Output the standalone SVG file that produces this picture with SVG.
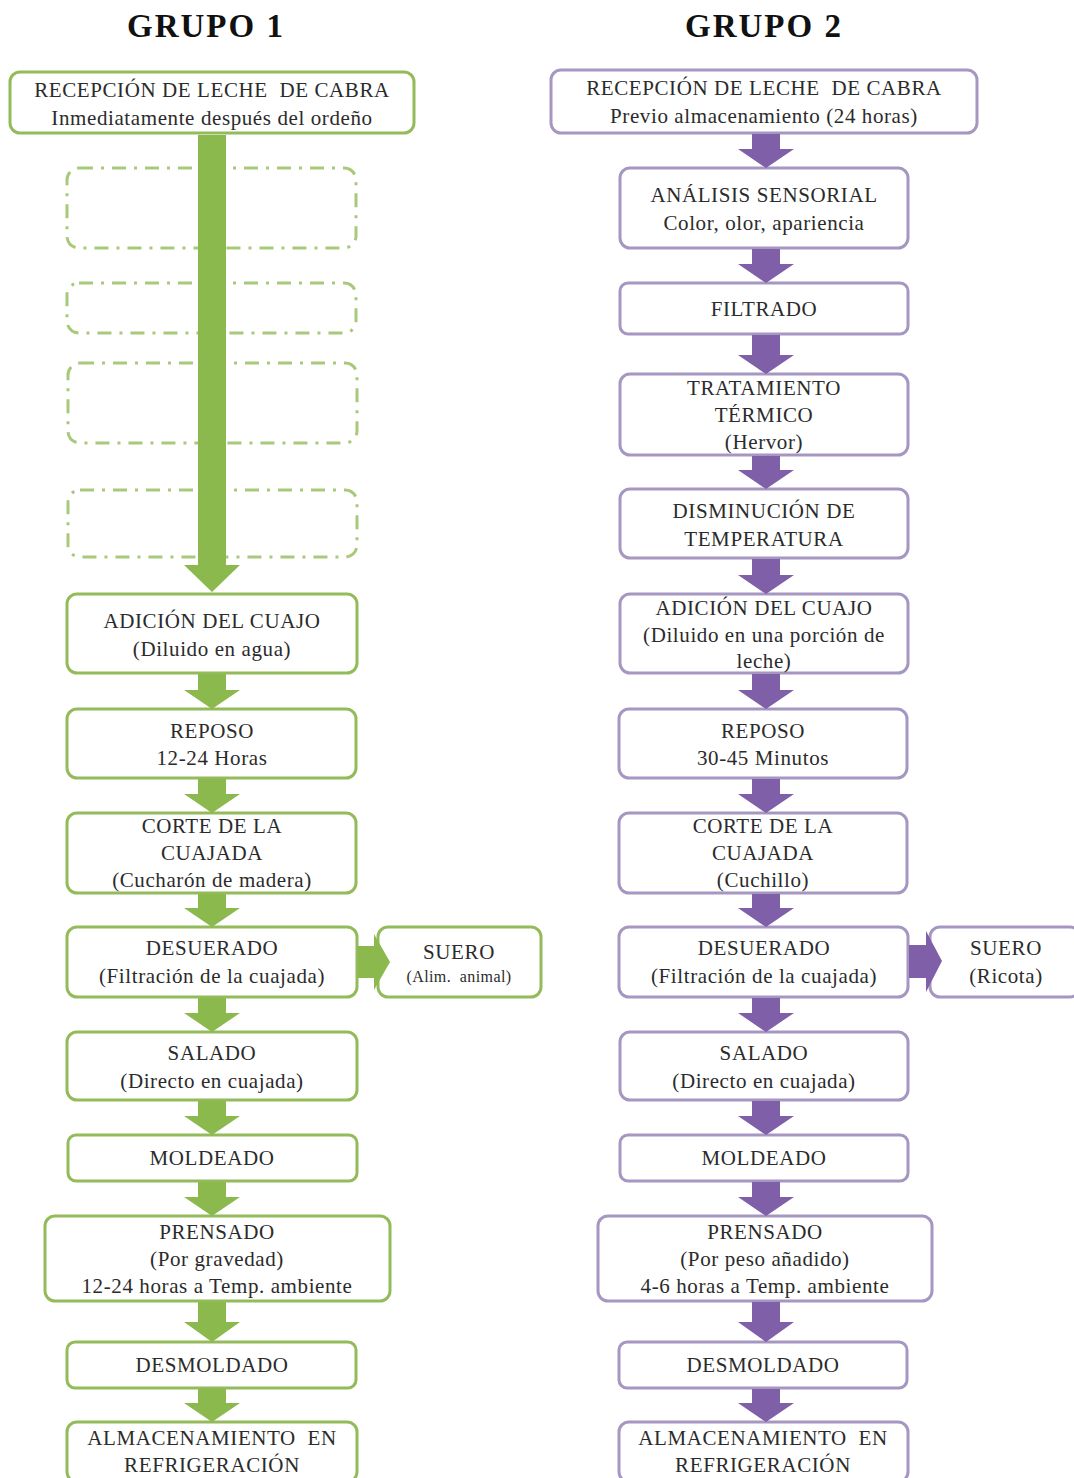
<svg xmlns="http://www.w3.org/2000/svg" width="1074" height="1478" viewBox="0 0 1074 1478">
<style>
.g{fill:#fff;stroke:#93bb5a;stroke-width:3}
.gd{fill:none;stroke:#a9c97a;stroke-width:3;stroke-dasharray:14 8 3 8}
.p{fill:#fff;stroke:#a597c2;stroke-width:3}
.ga{fill:#8cb94e}
.pa{fill:#7f5fa8}
text{font-family:"Liberation Serif","Times New Roman",serif;font-size:21px;letter-spacing:0.6px;fill:#2b2b2b;text-anchor:middle;white-space:pre}
.t{font-size:33px;font-weight:bold;fill:#111;letter-spacing:2px}
.s{font-size:16px;letter-spacing:0.4px}
</style>
<rect width="1074" height="1478" fill="#fff"/>
<text class="t" x="206" y="37">GRUPO 1</text>
<text class="t" x="764" y="37">GRUPO 2</text>

<g id="g1-recepcion"><rect class="g" x="10" y="72" width="404" height="61" rx="10"/><text x="212" y="97">RECEPCIÓN DE LECHE  DE CABRA</text><text x="212" y="125">Inmediatamente después del ordeño</text></g>
<g id="g1-dash1"><rect class="gd" x="67" y="168" width="289" height="80" rx="12"/></g>
<g id="g1-dash2"><rect class="gd" x="67" y="283" width="289" height="50" rx="12"/></g>
<g id="g1-dash3"><rect class="gd" x="68" y="363" width="289" height="80" rx="12"/></g>
<g id="g1-dash4"><rect class="gd" x="68" y="490" width="289" height="67" rx="12"/></g>
<g id="g1-adicion"><rect class="g" x="67" y="594" width="290" height="79" rx="10"/><text x="212" y="628">ADICIÓN DEL CUAJO</text><text x="212" y="656">(Diluido en agua)</text></g>
<g id="g1-reposo"><rect class="g" x="67" y="709" width="289" height="69" rx="10"/><text x="212" y="738">REPOSO</text><text x="212" y="765">12-24 Horas</text></g>
<g id="g1-corte"><rect class="g" x="67" y="813" width="289" height="80" rx="10"/><text x="212" y="833">CORTE DE LA</text><text x="212" y="860">CUAJADA</text><text x="212" y="887">(Cucharón de madera)</text></g>
<g id="g1-desuerado"><rect class="g" x="67" y="927" width="290" height="70" rx="10"/><text x="212" y="955">DESUERADO</text><text x="212" y="983">(Filtración de la cuajada)</text></g>
<g id="g1-suero"><rect class="g" x="378" y="927" width="163" height="70" rx="10"/><text x="459" y="959">SUERO</text><text class="s" x="459" y="982">(Alim.  animal)</text></g>
<g id="g1-salado"><rect class="g" x="67" y="1032" width="290" height="68" rx="10"/><text x="212" y="1060">SALADO</text><text x="212" y="1088">(Directo en cuajada)</text></g>
<g id="g1-moldeado"><rect class="g" x="68" y="1135" width="289" height="46" rx="8"/><text x="212" y="1165">MOLDEADO</text></g>
<g id="g1-prensado"><rect class="g" x="45" y="1216" width="345" height="85" rx="10"/><text x="217" y="1239">PRENSADO</text><text x="217" y="1266">(Por gravedad)</text><text x="217" y="1293">12-24 horas a Temp. ambiente</text></g>
<g id="g1-desmoldado"><rect class="g" x="67" y="1342" width="289" height="46" rx="8"/><text x="212" y="1372">DESMOLDADO</text></g>
<g id="g1-almacen"><rect class="g" x="67" y="1422" width="290" height="60" rx="10"/><text x="212" y="1445">ALMACENAMIENTO  EN</text><text x="212" y="1472">REFRIGERACIÓN</text></g>

<g id="g2-recepcion"><rect class="p" x="551" y="70" width="426" height="63" rx="10"/><text x="764" y="95">RECEPCIÓN DE LECHE  DE CABRA</text><text x="764" y="123">Previo almacenamiento (24 horas)</text></g>
<g id="g2-analisis"><rect class="p" x="620" y="168" width="288" height="80" rx="10"/><text x="764" y="202">ANÁLISIS SENSORIAL</text><text x="764" y="230">Color, olor, apariencia</text></g>
<g id="g2-filtrado"><rect class="p" x="620" y="283" width="288" height="51" rx="8"/><text x="764" y="316">FILTRADO</text></g>
<g id="g2-tratamiento"><rect class="p" x="620" y="374" width="288" height="81" rx="10"/><text x="764" y="395">TRATAMIENTO</text><text x="764" y="422">TÉRMICO</text><text x="764" y="449">(Hervor)</text></g>
<g id="g2-disminucion"><rect class="p" x="620" y="489" width="288" height="69" rx="10"/><text x="764" y="518">DISMINUCIÓN DE</text><text x="764" y="546">TEMPERATURA</text></g>
<g id="g2-adicion"><rect class="p" x="620" y="594" width="288" height="79" rx="10"/><text x="764" y="615">ADICIÓN DEL CUAJO</text><text x="764" y="642">(Diluido en una porción de</text><text x="764" y="668">leche)</text></g>
<g id="g2-reposo"><rect class="p" x="619" y="709" width="288" height="69" rx="10"/><text x="763" y="738">REPOSO</text><text x="763" y="765">30-45 Minutos</text></g>
<g id="g2-corte"><rect class="p" x="619" y="813" width="288" height="80" rx="10"/><text x="763" y="833">CORTE DE LA</text><text x="763" y="860">CUAJADA</text><text x="763" y="887">(Cuchillo)</text></g>
<g id="g2-desuerado"><rect class="p" x="619" y="927" width="289" height="70" rx="10"/><text x="764" y="955">DESUERADO</text><text x="764" y="983">(Filtración de la cuajada)</text></g>
<g id="g2-suero"><rect class="p" x="930" y="927" width="150" height="70" rx="10"/><text x="1006" y="955">SUERO</text><text x="1006" y="983">(Ricota)</text></g>
<g id="g2-salado"><rect class="p" x="620" y="1032" width="288" height="68" rx="10"/><text x="764" y="1060">SALADO</text><text x="764" y="1088">(Directo en cuajada)</text></g>
<g id="g2-moldeado"><rect class="p" x="620" y="1135" width="288" height="46" rx="8"/><text x="764" y="1165">MOLDEADO</text></g>
<g id="g2-prensado"><rect class="p" x="598" y="1216" width="334" height="85" rx="10"/><text x="765" y="1239">PRENSADO</text><text x="765" y="1266">(Por peso añadido)</text><text x="765" y="1293">4-6 horas a Temp. ambiente</text></g>
<g id="g2-desmoldado"><rect class="p" x="619" y="1342" width="288" height="46" rx="8"/><text x="763" y="1372">DESMOLDADO</text></g>
<g id="g2-almacen"><rect class="p" x="619" y="1422" width="289" height="60" rx="10"/><text x="763" y="1445">ALMACENAMIENTO  EN</text><text x="763" y="1472">REFRIGERACIÓN</text></g>

<g id="connectors">
<path class="ga" d="M198 135H226V565H240L212 592L184 565H198Z"/>
<path class="ga" d="M198 674H226V690H240L212 709L184 690H198Z"/>
<path class="ga" d="M198 779H226V794H240L212 813L184 794H198Z"/>
<path class="ga" d="M198 894H226V908H240L212 927L184 908H198Z"/>
<path class="ga" d="M198 998H226V1013H240L212 1032L184 1013H198Z"/>
<path class="ga" d="M198 1101H226V1116H240L212 1135L184 1116H198Z"/>
<path class="ga" d="M198 1182H226V1197H240L212 1216L184 1197H198Z"/>
<path class="ga" d="M198 1302H226V1322H240L212 1342L184 1322H198Z"/>
<path class="ga" d="M198 1389H226V1403H240L212 1422L184 1403H198Z"/>
<path class="ga" d="M358 946V978H374V990L390 962L374 934V946Z"/>

<path class="pa" d="M752 134H780V149H794L766 168L738 149H752Z"/>
<path class="pa" d="M752 249H780V264H794L766 283L738 264H752Z"/>
<path class="pa" d="M752 335H780V355H794L766 374L738 355H752Z"/>
<path class="pa" d="M752 456H780V470H794L766 489L738 470H752Z"/>
<path class="pa" d="M752 559H780V575H794L766 594L738 575H752Z"/>
<path class="pa" d="M752 674H780V690H794L766 709L738 690H752Z"/>
<path class="pa" d="M752 779H780V794H794L766 813L738 794H752Z"/>
<path class="pa" d="M752 894H780V908H794L766 927L738 908H752Z"/>
<path class="pa" d="M752 998H780V1013H794L766 1032L738 1013H752Z"/>
<path class="pa" d="M752 1101H780V1116H794L766 1135L738 1116H752Z"/>
<path class="pa" d="M752 1182H780V1197H794L766 1216L738 1197H752Z"/>
<path class="pa" d="M752 1302H780V1322H794L766 1342L738 1322H752Z"/>
<path class="pa" d="M752 1389H780V1403H794L766 1422L738 1403H752Z"/>
<path class="pa" d="M909 945V978H926V992L942 961L926 931V945Z"/>
</g>
</svg>
